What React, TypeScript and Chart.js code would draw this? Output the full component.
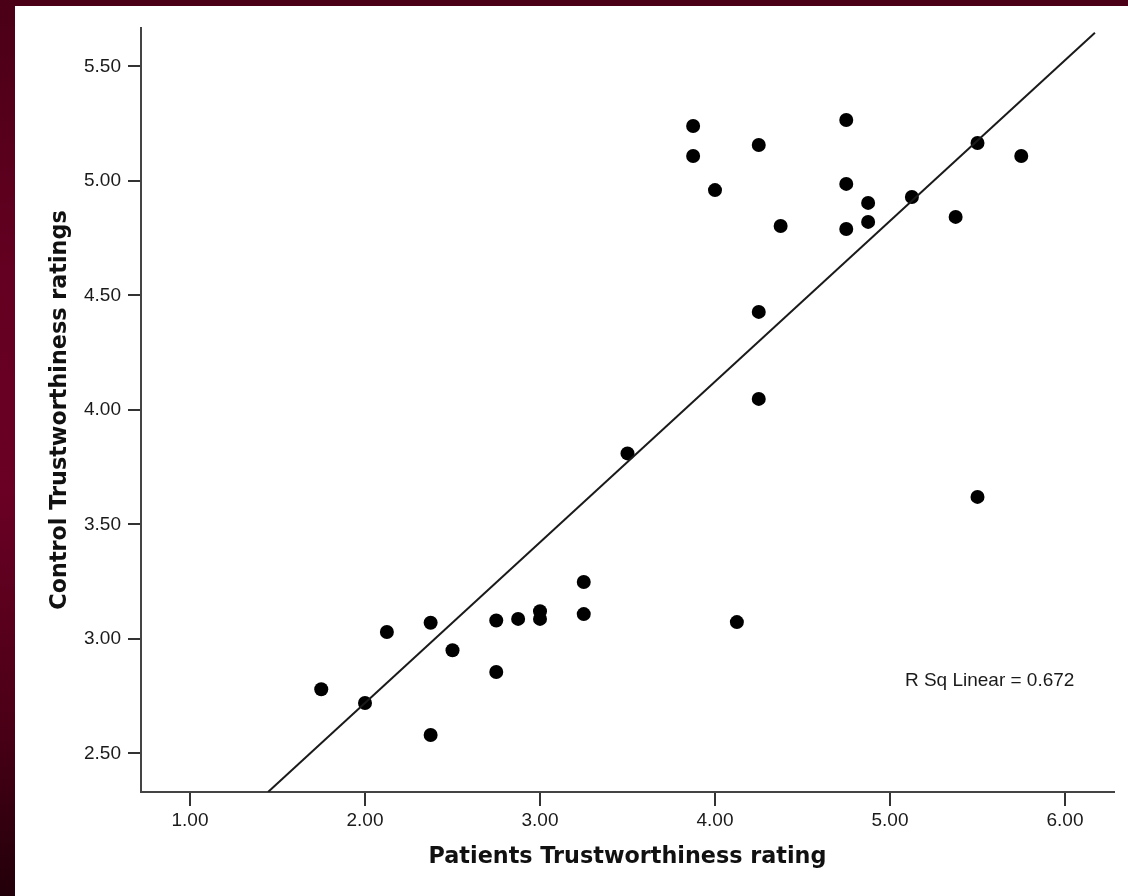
import React, { useEffect, useRef } from "react";
import { Chart, registerables } from "chart.js";

Chart.register(...registerables);

// Patients (x) vs Control (y) trustworthiness ratings
const patientsRatings = [
  1.75, 2.0, 2.125, 2.375, 2.375, 2.5, 2.75, 2.75, 2.875, 3.0, 3.0, 3.25, 3.25,
  3.5, 3.875, 3.875, 4.0, 4.125, 4.25, 4.25, 4.25, 4.375, 4.75, 4.75, 4.75,
  4.875, 4.875, 5.125, 5.375, 5.5, 5.5, 5.75,
];
const controlRatings = [
  2.78, 2.72, 3.03, 3.07, 2.58, 2.95, 3.08, 2.855, 3.087, 3.121, 3.087, 3.248,
  3.108, 3.81, 5.24, 5.109, 4.96, 3.073, 5.157, 4.428, 4.048, 4.803, 5.266,
  4.987, 4.79, 4.904, 4.821, 4.93, 4.843, 5.166, 3.62, 5.109,
];

// Fit line as drawn in the picture (endpoints)
const fitLineX = [1.446, 6.171];
const fitLineY = [2.331, 5.647];

const xTicks = [1, 2, 3, 4, 5, 6];
const yTicks = [2.5, 3, 3.5, 4, 4.5, 5, 5.5];
const xRange = [0.72, 6.28];
const yRange = [2.331, 5.668];

const xTitle = "Patients Trustworthiness rating";
const yTitle = "Control Trustworthiness ratings";
const rSqLabel = "R Sq Linear = 0.672";
const rSqAt = [5.085, 2.816];

const rSqPlugin = {
  id: "rSqLabel",
  afterDatasetsDraw(chart: any) {
    const { ctx, scales } = chart;
    ctx.save();
    ctx.font = '19px "Liberation Sans", Arial, sans-serif';
    ctx.fillStyle = "#1a1a1a";
    ctx.textAlign = "left";
    ctx.textBaseline = "middle";
    ctx.fillText(
      rSqLabel,
      scales.x.getPixelForValue(rSqAt[0]),
      scales.y.getPixelForValue(rSqAt[1])
    );
    ctx.restore();
  },
};

export default function App() {
  const canvasRef = useRef<HTMLCanvasElement | null>(null);

  useEffect(() => {
    if (!canvasRef.current) return;
    const tickFont = { family: '"Liberation Sans", Arial, sans-serif', size: 19 };
    const titleFont = { family: '"DejaVu Sans", Verdana, sans-serif', size: 22.3, weight: "bold" as const };
    const chart = new Chart(canvasRef.current, {
      type: "scatter",
      data: {
        datasets: [
          {
            label: "Fit",
            data: fitLineX.map((x, i) => ({ x, y: fitLineY[i] })),
            showLine: true,
            borderColor: "#1a1a1a",
            borderWidth: 2,
            pointRadius: 0,
            fill: false,
          },
          {
            label: "Ratings",
            data: patientsRatings.map((x, i) => ({ x, y: controlRatings[i] })),
            backgroundColor: "#000",
            borderColor: "#000",
            borderWidth: 0,
            pointRadius: 7,
          },
        ],
      },
      options: {
        animation: false,
        responsive: false,
        maintainAspectRatio: false,
        layout: { padding: { top: 22, right: 14, left: 0, bottom: 0 } },
        plugins: {
          legend: { display: false },
          tooltip: { enabled: false },
        },
        scales: {
          x: {
            type: "linear",
            min: xRange[0],
            max: xRange[1],
            afterBuildTicks: (s: any) => {
              s.ticks = xTicks.map((v) => ({ value: v }));
            },
            afterFit: (s: any) => {
              s.height = 104;
            },
            ticks: {
              callback: (v: any) => Number(v).toFixed(2),
              font: tickFont,
              color: "#1a1a1a",
              padding: 3,
              autoSkip: false,
              maxRotation: 0,
            },
            grid: {
              display: true,
              drawOnChartArea: false,
              drawTicks: true,
              tickLength: 14,
              tickColor: "#333",
              tickWidth: 2,
              lineWidth: 2,
            },
            border: { display: true, color: "#444", width: 2 },
            title: {
              display: true,
              text: xTitle,
              font: titleFont,
              color: "#111",
              padding: { top: 0, bottom: 25 },
            },
          },
          y: {
            type: "linear",
            min: yRange[0],
            max: yRange[1],
            afterBuildTicks: (s: any) => {
              s.ticks = yTicks.map((v) => ({ value: v }));
            },
            afterFit: (s: any) => {
              s.width = 126;
            },
            ticks: {
              callback: (v: any) => Number(v).toFixed(2),
              font: tickFont,
              color: "#1a1a1a",
              padding: 7,
              autoSkip: false,
            },
            grid: {
              display: true,
              drawOnChartArea: false,
              drawTicks: true,
              tickLength: 13,
              tickColor: "#333",
              tickWidth: 2,
              lineWidth: 2,
            },
            border: { display: true, color: "#444", width: 2 },
            title: {
              display: true,
              text: yTitle,
              font: titleFont,
              color: "#111",
              padding: { top: 32, bottom: 0 },
            },
          },
        },
      },
      plugins: [rSqPlugin],
    });
    return () => chart.destroy();
  }, []);

  return (
    <div
      style={{
        position: "fixed",
        left: 0,
        top: 0,
        width: 1128,
        height: 896,
        background:
          "linear-gradient(to bottom, #4a0017 0%, #640021 30%, #6a0024 55%, #4c0017 80%, #22000a 100%)",
      }}
    >
      <div
        style={{
          position: "absolute",
          left: 15,
          top: 6,
          width: 1113,
          height: 890,
          background: "#fff",
        }}
      >
        <canvas ref={canvasRef} width={1113} height={890} style={{ display: "block" }} />
      </div>
    </div>
  );
}
